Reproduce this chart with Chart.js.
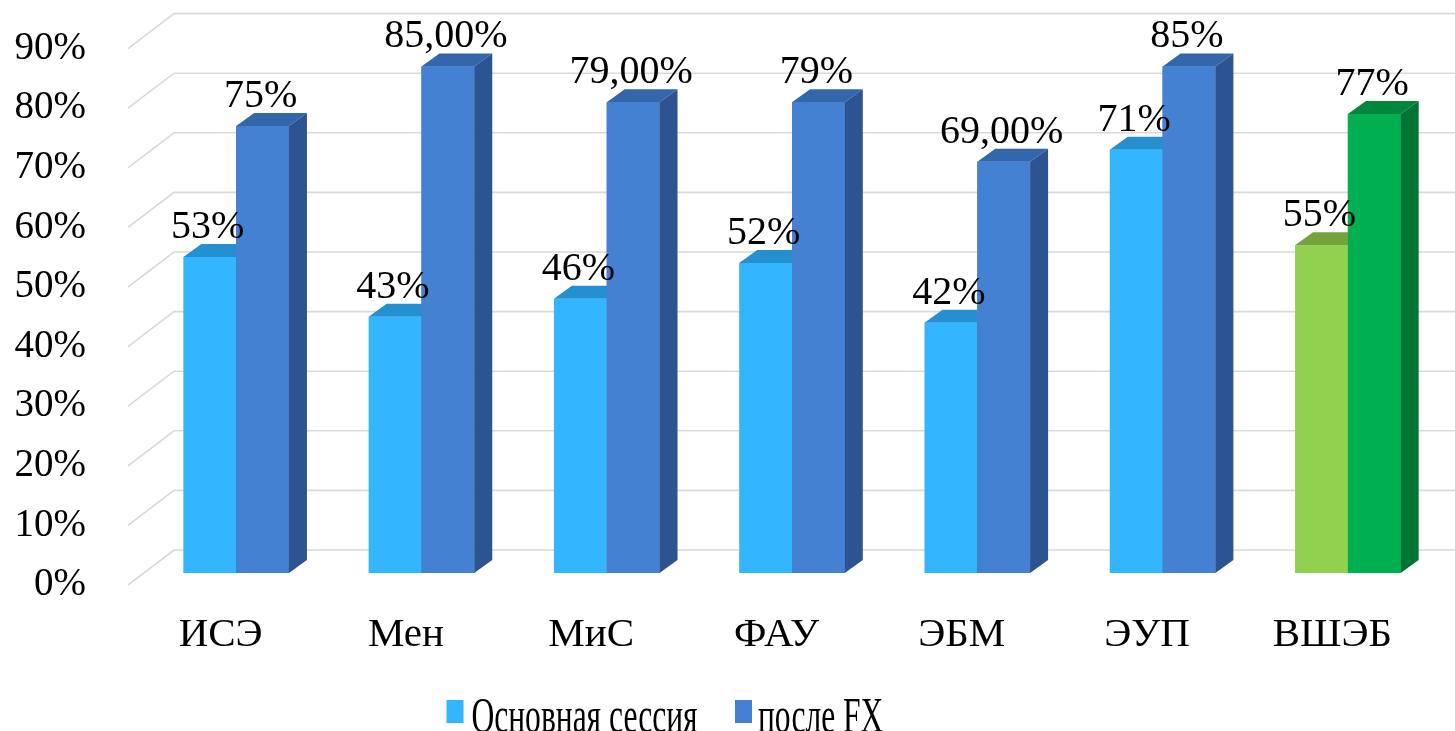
<!DOCTYPE html>
<html><head><meta charset="utf-8">
<script src="https://cdn.jsdelivr.net/npm/chart.js@4.4.1/dist/chart.umd.min.js"></script>
<style>html,body{margin:0;padding:0;background:#fff;overflow:hidden}</style>
</head><body>
<canvas id="c" width="1455" height="731"></canvas>
<script>
// ---- data ----
const categories = ['ИСЭ', 'Мен', 'МиС', 'ФАУ', 'ЭБМ', 'ЭУП', 'ВШЭБ'];
const mainSession = [53, 43, 46, 52, 42, 71, 55];
const afterFX = [75, 85, 79, 79, 69, 85, 77];
const mainDecimals = [0, 0, 0, 0, 0, 0, 0];
const fxDecimals = [0, 2, 2, 0, 2, 0, 0];
const seriesNames = ['Основная сессия', 'после FX'];
const yTickValues = [0, 10, 20, 30, 40, 50, 60, 70, 80, 90];

// ---- styles ----
const HIGHLIGHT = 'ВШЭБ';
const pal = {
  main: { front: '#33B5FF', top: '#2490CF', side: '#1F7DB5' },
  fx:   { front: '#4581D3', top: '#3466AB', side: '#2D5490' },
  mainH:{ front: '#92D050', top: '#76A23B', side: '#6A9434' },
  fxH:  { front: '#00B050', top: '#00873D', side: '#007533' }
};
const pick = (key, keyH, prop) => categories.map(c => (c === HIGHLIGHT ? pal[keyH] : pal[key])[prop]);

const DX = 15.5, DY = -12;          // bar plane offset from front plane
const DEPTH_X = 18, DEPTH_Y = -13;  // bar depth
const WALL_X = 46, WALL_Y = -35;    // back wall offset
const FONT = '"Liberation Serif", "Times New Roman", serif';

const fmt = (v, d) => v.toFixed(d).replace('.', ',') + '%';

const bar3d = {
  id: 'bar3d',
  beforeDatasetsDraw(chart) {
    const { ctx, chartArea: a, scales: { y } } = chart;
    ctx.save();
    ctx.strokeStyle = '#D9D9D9';
    ctx.lineWidth = 1.6;
    y.ticks.forEach(t => {
      const py = y.getPixelForValue(t.value);
      ctx.beginPath();
      ctx.moveTo(a.left, py);
      ctx.lineTo(a.left + WALL_X, py + WALL_Y);
      ctx.lineTo(chart.width, py + WALL_Y);
      ctx.stroke();
    });
    ctx.restore();
    ctx.save();
    ctx.translate(DX, DY);
  },
  afterDatasetsDraw(chart) {
    const ctx = chart.ctx;
    const metas = [chart.getDatasetMeta(0), chart.getDatasetMeta(1)];
    categories.forEach((c, i) => {
      metas.forEach((meta, d) => {
        const ds = chart.data.datasets[d];
        const b = meta.data[i];
        if (d > 0) b.draw(ctx);
        const { x, y, base, width } = b.getProps(['x', 'y', 'base', 'width'], true);
        const l = x - width / 2, r = x + width / 2;
        ctx.fillStyle = ds.topColor[i];
        ctx.beginPath();
        ctx.moveTo(l, y); ctx.lineTo(l + DEPTH_X, y + DEPTH_Y);
        ctx.lineTo(r + DEPTH_X, y + DEPTH_Y); ctx.lineTo(r, y);
        ctx.closePath(); ctx.fill();
        ctx.fillStyle = ds.sideColor[i];
        ctx.beginPath();
        ctx.moveTo(r, y); ctx.lineTo(r + DEPTH_X, y + DEPTH_Y);
        ctx.lineTo(r + DEPTH_X, base + DEPTH_Y); ctx.lineTo(r, base);
        ctx.closePath(); ctx.fill();
      });
    });
    ctx.restore();
    // data labels
    ctx.save();
    ctx.font = '40px ' + FONT;
    ctx.fillStyle = '#000';
    ctx.textAlign = 'center';
    ctx.textBaseline = 'alphabetic';
    const decs = [mainDecimals, fxDecimals];
    metas.forEach((meta, d) => {
      const vals = chart.data.datasets[d].data;
      meta.data.forEach((b, i) => {
        ctx.fillText(fmt(vals[i], decs[d][i]), b.x + DX - 2, b.y + DY + DEPTH_Y - 6);
      });
    });
    ctx.restore();
  },
  afterDraw(chart) {
    const ctx = chart.ctx;
    ctx.save();
    ctx.font = '50px ' + FONT;
    ctx.fillStyle = '#000';
    ctx.textBaseline = 'alphabetic';
    const sx = 226 / ctx.measureText(seriesNames[0]).width;
    const items = [
      { sq: 446.5, tx: 471.5, color: pal.main.front },
      { sq: 735, tx: 758, color: pal.fx.front }
    ];
    items.forEach((it, k) => {
      ctx.fillStyle = it.color;
      ctx.fillRect(it.sq, 700, 17, 23);
      ctx.save();
      ctx.translate(it.tx, 732);
      ctx.scale(sx, 1);
      ctx.fillStyle = '#000';
      ctx.fillText(seriesNames[k], 0, 0);
      ctx.restore();
    });
    ctx.restore();
  }
};

function build() {
  new Chart(document.getElementById('c'), {
    type: 'bar',
    data: {
      labels: categories,
      datasets: [
        { label: seriesNames[0], data: mainSession, backgroundColor: pick('main', 'mainH', 'front'),
          topColor: pick('main', 'mainH', 'top'), sideColor: pick('main', 'mainH', 'side'),
          borderWidth: 0, clip: false },
        { label: seriesNames[1], data: afterFX, backgroundColor: pick('fx', 'fxH', 'front'),
          topColor: pick('fx', 'fxH', 'top'), sideColor: pick('fx', 'fxH', 'side'),
          borderWidth: 0, clip: false }
      ]
    },
    options: {
      responsive: false,
      animation: false,
      events: [],
      datasets: { bar: { categoryPercentage: 0.57, barPercentage: 1.0 } },
      layout: { padding: { top: 48.6, right: 30, left: 0, bottom: 0 } },
      plugins: { legend: { display: false }, tooltip: { enabled: false } },
      scales: {
        x: {
          grid: { display: false, drawTicks: false },
          border: { display: false },
          ticks: { color: '#000', font: { family: FONT, size: 41 }, padding: 26, maxRotation: 0 },
          afterFit: s => { s.height = 146; s.paddingLeft = 0; s.paddingRight = 0; }
        },
        y: {
          min: 0, max: 90,
          afterBuildTicks: s => { s.ticks = yTickValues.map(v => ({ value: v })); },
          grid: { display: false, drawTicks: false },
          border: { display: false },
          ticks: { color: '#000', font: { family: FONT, size: 39 }, padding: 42, callback: v => v + '%' },
          afterFit: s => { s.width = 128; s.paddingTop = 0; s.paddingBottom = 0; }
        }
      }
    },
    plugins: [bar3d]
  });
}

const sample = '0123456789%,ИСЭМенФАУБПВШОсовнаяпслеFX';
Promise.all([
  document.fonts.load('40px "Liberation Serif"', sample),
  document.fonts.load('50px "Liberation Serif"', sample)
]).catch(() => {}).then(build);
</script>
</body></html>
